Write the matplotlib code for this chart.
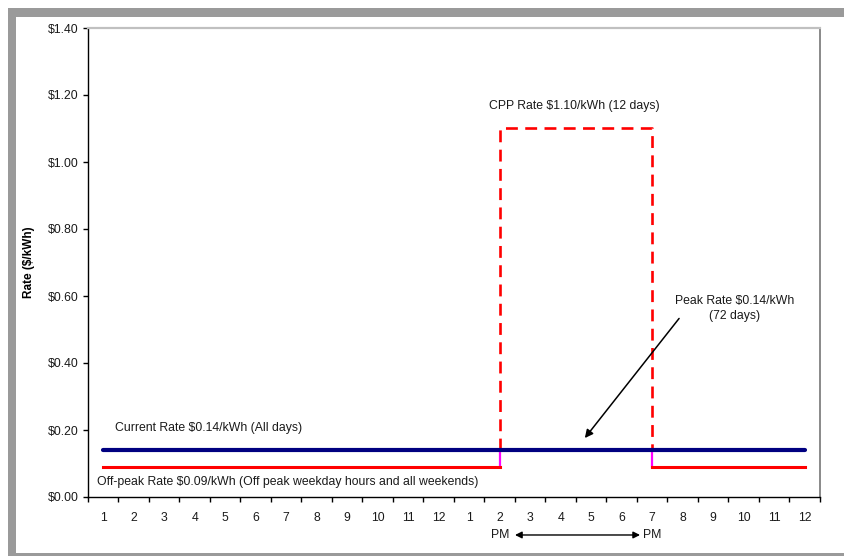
import matplotlib
matplotlib.use("Agg")
import matplotlib.pyplot as plt
import numpy as np
from matplotlib.patches import Rectangle
from matplotlib.ticker import FixedLocator, FuncFormatter

plt.rcParams["font.family"] = ["Liberation Sans", "DejaVu Sans"]
plt.rcParams["text.color"] = "#1a1a1a"

# ── Data ─────────────────────────────────────────────────────────────────────
hour_labels = [str(h) for h in range(1, 13)] * 2
hours = np.arange(1, len(hour_labels) + 1)

current_rate = [0.14] * 24
offpeak_rate = [0.09] * 14 + [np.nan] * 4 + [0.09] * 6
peak_x = [14, 14, 19, 19]
peak_y = [0.09, 0.14, 0.14, 0.09]
cpp_x = [14, 14, 19, 19]
cpp_y = [0.14, 1.10, 1.10, 0.14]

yticks = [0.0, 0.2, 0.4, 0.6, 0.8, 1.0, 1.2, 1.4]

# ── Figure ───────────────────────────────────────────────────────────────────
W, H = 845, 556
fig = plt.figure(figsize=(W / 100, H / 100), dpi=100)
fig.patch.set_facecolor("white")

GREY = "#9a9a9a"
def band(x0, y0, x1, y1):
    # pixel coords measured from the top-left corner
    fig.patches.append(Rectangle((x0 / W, 1 - y1 / H), (x1 - x0) / W, (y1 - y0) / H,
                                 transform=fig.transFigure, facecolor=GREY,
                                 edgecolor="none", zorder=0))
band(8, 8, W, 16.5)
band(8, 8, 16.5, H)
band(8, 552.5, W, H)

ax = fig.add_axes([88 / W, (H - 497) / H, (820 - 88) / W, (497 - 28) / H])
ax.set_xlim(0.5, 24.5)
ax.set_ylim(0, 1.4)

ax.plot(cpp_x, cpp_y, color="#ff0000", lw=1.9, ls=(0, (4.5, 2.8)), zorder=3)
ax.plot(peak_x, peak_y, color="#ff00ff", lw=1.6, zorder=3)
ax.plot(hours, offpeak_rate, color="#ff0000", lw=2.2, zorder=4)
ax.plot(hours, current_rate, color="#000080", lw=3.0, zorder=5,
        solid_capstyle="round")

# axes styling
for s in ["left", "bottom"]:
    ax.spines[s].set_color("#000000")
    ax.spines[s].set_linewidth(1.0)
ax.spines["top"].set_color("#c0c0c0")
ax.spines["top"].set_linewidth(1.6)
ax.spines["right"].set_color("#808080")
ax.spines["right"].set_linewidth(1.3)

ax.set_yticks(yticks)
ax.yaxis.set_major_formatter(FuncFormatter(lambda v, p: f"${v:.2f}"))
ax.tick_params(axis="y", length=3.5, width=1, pad=3, labelsize=8.8,
               colors="#000000", labelcolor="#1a1a1a")

ax.set_xticks(hours)
ax.set_xticklabels(hour_labels)
ax.xaxis.set_minor_locator(FixedLocator(np.arange(0.5, 25, 1)))
ax.tick_params(axis="x", which="major", length=0, pad=11, labelsize=8.8,
               labelcolor="#1a1a1a")
ax.tick_params(axis="x", which="minor", length=3.5, width=1)

ax.set_ylabel("Rate ($/kWh)", fontsize=8.5, fontweight="bold")
ax.yaxis.set_label_coords(-0.073, 0.5)

# ── Annotations ──────────────────────────────────────────────────────────────
FS = 8.8
ax.text(16.43, 1.168, "CPP Rate $1.10/kWh (12 days)", ha="center",
        va="center", fontsize=FS)
ax.text(21.7, 0.563, "Peak Rate $0.14/kWh\n(72 days)", ha="center",
        va="center", fontsize=FS, linespacing=1.4)
ax.annotate("", xy=(16.79, 0.176), xytext=(19.88, 0.533),
            arrowprops=dict(arrowstyle="-|>", color="black", lw=1.1,
                            mutation_scale=12, shrinkA=0, shrinkB=0))
ax.text(1.39, 0.206, "Current Rate $0.14/kWh (All days)", ha="left",
        va="center", fontsize=FS)
ax.text(0.80, 0.045, "Off-peak Rate $0.09/kWh (Off peak weekday hours and all weekends)",
        ha="left", va="center", fontsize=FS)

trans = ax.get_xaxis_transform()
ax.text(14, -0.081, "PM", ha="center", va="center", fontsize=FS,
        transform=trans)
ax.text(19, -0.081, "PM", ha="center", va="center", fontsize=FS,
        transform=trans)
ax.annotate("", xy=(14.5, -0.081), xytext=(18.6, -0.081),
            xycoords=trans, textcoords=trans, annotation_clip=False,
            arrowprops=dict(arrowstyle="<|-|>", color="black", lw=1.0,
                            mutation_scale=10, shrinkA=0, shrinkB=0))

fig.savefig("out.png", dpi=100, facecolor="white")
